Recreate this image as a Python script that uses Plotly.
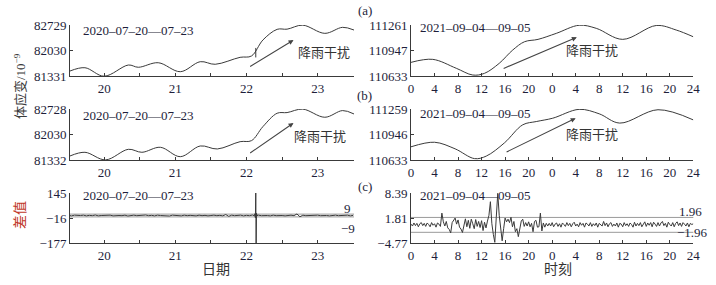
import plotly.graph_objects as go

W, H = 716, 285

# ---------------- data ----------------
# (a) left: 2020-07-20 -- 07-23, strain (1e-9), x in days
a_l_day = [19.52, 19.73, 20.00, 20.34, 20.48, 20.76, 21.07, 21.35, 21.56, 21.91, 22.07,
           22.23, 22.43, 22.57, 22.79, 23.10, 23.35, 23.51]
a_l_val = [81468, 81558, 81325, 81632, 81570, 81695, 81449, 81723, 81652, 81843, 81880,
           82317, 82610, 82615, 82725, 82500, 82665, 82591]
a_l_spike_day = [22.13, 22.13]
a_l_spike_val = [82100, 81840]

# (b) left
b_l_day = [19.52, 19.73, 20.02, 20.34, 20.53, 20.79, 21.07, 21.35, 21.59, 21.91, 22.07,
           22.23, 22.43, 22.57, 22.79, 23.10, 23.35, 23.51]
b_l_val = [81442, 81543, 81335, 81625, 81543, 81680, 81423, 81716, 81634, 81834, 81862,
           82245, 82612, 82630, 82725, 82502, 82685, 82592]

# (a) right: 2021-09-04 -- 09-05, x in hours from start
a_r_hour = [0, 3.7, 7.7, 10.5, 12.5, 15.0, 17.3, 19.3, 21.6, 24.7, 28.6, 31.5, 36.0, 41.7, 45.1, 48]
a_r_val = [110801, 110838, 110728, 110645, 110666, 110789, 110953, 111055, 111084, 111158,
           111258, 111220, 111084, 111255, 111199, 111116]

# (b) right
b_r_hour = [0, 4.0, 7.5, 10.8, 12.8, 15.9, 19.0, 21.3, 24.1, 28.6, 32.0, 35.5, 42.0, 48]
b_r_val = [110795, 110851, 110770, 110650, 110681, 110844, 111065, 111105, 111146, 111255,
           111200, 111086, 111250, 111125]

# (c) left: difference, hourly from day 19.5
c_l_start, c_l_step = 19.5, 1 / 24
c_l_val = [1, -2, 2, -1, 0, 2, -2, 1, -1, 3, -2, 0,
           1, -1, 2, -2, 1, 0, -1, 2, -3, 1, 2, -1,
           0, -2, 3, -1, 1, -2, 2, 0, -1, 1, -3, 2,
           0, 1, -2, 2, -1, 1, 0, -2, 2, -1, 1, -2,
           0, 2, -1, 1, -2, 6, -5, 2, -1, 0, 2, -2,
           1, -1, 3, -4, 2, -1, 1, 0, -2, 2, -1, 1,
           0, -2, 1, 2, -1, 10, -8, 2, -1, 0, 1, -2,
           2, -1, 1, 0, -2, 1, 2, -1, 0, -1, 2, -2,
           1]
c_l_spike_day = [22.11, 22.12, 22.125, 22.13, 22.135, 22.14, 22.15]
c_l_spike_val = [0, 12, -15, 160, -185, 14, 0]
c_l_band = [9, -9]

# (c) right: difference every 15 min
c_r_step = 0.25
c_r_val = [0.2, -0.3, 0.5, -0.2, 0.4, -0.5, 0.3, 0.6, -0.2, 0.4, -0.4, 0.5, 0.1, -0.5, 0.6, -0.1, 0.3, -0.6, 0.5, 0.2,
           -0.4, 3.1, 0.8, -0.3, 0.9, -0.8, -1.2, -2.1, 0.6, 1.2, 1.8, 0.2, 1.3, -0.6, -1.1, -2.0, 0.4, 1.6, -0.5, 1.2,
           -0.9, 1.5, 0.3, -1.0, 1.4, -0.4, 0.9, -0.7, 1.1, -1.5, 0.7, -0.8, 1.0, 2.5, 6.1, 0.3, -2.5, -4.6, 2.0, 8.3,
           2.5, -1.5, -4.2, -1.0, 1.8, 0.8, 1.5, 0.6, 2.0, -0.5, 0.9, -1.8, -1.0, -3.1, -0.8, 1.0, 1.5, -0.4, 0.6, -0.3,
           0.8, -0.5, 0.4, -1.8, 0.9, 1.2, -0.6, -0.5, 3.1, -1.6, 0.5, -0.6, 0.4, -0.3,
           0.4, -0.3, 0.6, -0.5, 0.2, 0.5, -0.4, 0.3, -0.6, 0.5, 0.1, -0.4,
           0.6, -0.2, 0.4, -0.5, 0.3, 0.7, -0.3, 0.2, -0.5, 0.6, -0.1, 0.4,
           -0.6, 0.5, 0.2, -0.3, 0.6, -0.4, 0.3, -0.2, 0.5, -0.6, 0.4, 0.1,
           -0.3, 0.9, -0.2, 0.5, -0.5, 0.3, 0.6, -0.4, 0.2, -0.3, 0.5, -0.6,
           0.4, 0.2, -0.5, 0.6, -0.2, 0.3, -0.4, 0.5, 0.1, -0.6, 0.7, -0.3,
           0.4, -0.2, 0.6, -0.5, 0.3, 0.8, -0.4, 0.5, -0.1, 0.6, -0.5, 0.7,
           0.2, -0.4, 0.6, -0.3, 0.5, 0.9, -0.2, 0.4, -0.6, 0.7, 0.1, -0.3,
           0.6, -0.5, 0.4, 0.8, -0.2, 0.5, -0.4, 0.6, 0.2, -0.3, 0.5, -0.5,
           0.4, 0.1, 0.3]
c_r_band = [1.96, -1.96]

# ticks
day_tickvals = [20, 20.5, 21, 21.5, 22, 22.5, 23, 23.5]
day_ticktext = ["20", "", "21", "", "22", "", "23", ""]
hour_tickvals = list(range(0, 49, 4))
hour_ticktext = ["0", "4", "8", "12", "16", "20", "0", "4", "8", "12", "16", "20", "24"]
a_l_yticks = [81331, 82030, 82729]
b_l_yticks = [81332, 82030, 82728]
c_l_yticks = [-177, -16, 145]
a_r_yticks = [110633, 110947, 111261]
b_r_yticks = [110633, 110946, 111259]
c_r_yticks = [-4.77, 1.81, 8.39]

date_left = "2020–07–20—07–23"
date_right = "2021–09–04—09–05"
rain = "降雨干扰"

# ---------------- figure ----------------
LINE = "#3a3a3a"
TXT = "#1e1e3a"
SERIF = "Liberation Serif, Times New Roman, serif"
CJK = "Liberation Serif, Noto Sans CJK SC, sans-serif"

def fx(px):
    return px / W

def fy(py):
    return 1 - py / H

fig = go.Figure()

def line(x, y, ax, smooth=True, width=1.0):
    fig.add_trace(go.Scatter(x=x, y=y, mode="lines", xaxis="x" + ax, yaxis="y" + ax,
                             line=dict(color=LINE, width=width,
                                       shape="spline" if smooth else "linear",
                                       smoothing=1.0 if smooth else None),
                             showlegend=False, hoverinfo="skip"))

line(a_l_day, a_l_val, "")
line(a_l_spike_day, a_l_spike_val, "", smooth=False)
line(a_r_hour, a_r_val, "2")
line(b_l_day, b_l_val, "3")
line(b_r_hour, b_r_val, "4")
line([c_l_start + i * c_l_step for i in range(len(c_l_val))], c_l_val, "5", smooth=False, width=1.0)
line(c_l_spike_day, c_l_spike_val, "5", smooth=False)
line([i * c_r_step for i in range(len(c_r_val))], c_r_val, "6", smooth=False, width=1.0)

left_dom = [fx(70), fx(354)]
right_dom = [fx(411), fx(693.3)]
rows = {"a": [fy(76), fy(25)], "b": [fy(160), fy(109)], "c": [fy(243), fy(193)]}

base_axis = dict(showline=True, linecolor=LINE, linewidth=1, ticks="inside", ticklen=3,
                 tickcolor=LINE, tickwidth=1, showgrid=False, zeroline=False, automargin=False,
                 tickfont=dict(family=SERIF, size=13, color=TXT), fixedrange=True)

def xax(dom, anchor, left):
    d = dict(base_axis, domain=dom, anchor=anchor)
    if left:
        d.update(range=[19.52, 23.51], tickmode="array", tickvals=day_tickvals, ticktext=day_ticktext)
    else:
        d.update(range=[0, 48], tickmode="array", tickvals=hour_tickvals, ticktext=hour_ticktext)
    return d

def yax(dom, anchor, ticks, labels=None):
    d = dict(base_axis, domain=dom, anchor=anchor, range=[ticks[0], ticks[-1]],
             tickmode="array", tickvals=ticks,
             ticktext=labels if labels else [str(t).replace("-", "−") for t in ticks])
    return d

fig.update_layout(
    width=W, height=H, margin=dict(l=0, r=0, t=0, b=0, pad=0),
    paper_bgcolor="white", plot_bgcolor="white",
    xaxis=xax(left_dom, "y", True), yaxis=yax(rows["a"], "x", a_l_yticks),
    xaxis2=xax(right_dom, "y2", False), yaxis2=yax(rows["a"], "x2", a_r_yticks),
    xaxis3=xax(left_dom, "y3", True), yaxis3=yax(rows["b"], "x3", b_l_yticks),
    xaxis4=xax(right_dom, "y4", False), yaxis4=yax(rows["b"], "x4", b_r_yticks),
    xaxis5=xax(left_dom, "y5", True), yaxis5=yax(rows["c"], "x5", c_l_yticks),
    xaxis6=xax(right_dom, "y6", False), yaxis6=yax(rows["c"], "x6", c_r_yticks),
)

# reference bands
shapes = []
for v in c_l_band:
    shapes.append(dict(type="line", xref="x5 domain", yref="y5", x0=0, x1=1, y0=v, y1=v,
                       line=dict(color="#9a9a9a", width=1), layer="below"))
for v in c_r_band:
    shapes.append(dict(type="line", xref="x6 domain", yref="y6", x0=0, x1=1, y0=v, y1=v,
                       line=dict(color="#9a9a9a", width=1), layer="below"))
fig.update_layout(shapes=shapes)

ann = []
def text(px, py, s, size=13, family=SERIF, color=TXT, xanchor="center", angle=0):
    ann.append(dict(x=fx(px), y=fy(py), xref="paper", yref="paper", text=s, showarrow=False,
                    font=dict(family=family, size=size, color=color), xanchor=xanchor,
                    yanchor="middle", textangle=angle, borderpad=0))

# date labels
for py in (30, 116, 195):
    text(81.5, py, date_left, xanchor="left")
for py in (28, 113, 195):
    text(419, py, date_right, xanchor="left")
# rain labels
text(324, 52, rain, size=13, family=CJK, color="#333")
text(320, 137, rain, size=13, family=CJK, color="#333")
text(592, 50, rain, size=13, family=CJK, color="#333")
text(592, 135, rain, size=13, family=CJK, color="#333")
# panel letters
text(364.5, 10, "(a)")
text(364.5, 96, "(b)")
text(364.5, 186, "(c)")
# axis titles
text(20, 86, "体应变/10<sup>−9</sup>", size=13, family=CJK, color="#3a3a3a", angle=-90)
text(20, 215, "差值", size=14, family=CJK, color="#c0392b", angle=-90)
text(216, 269, "日期", size=14, family=CJK, color="#333")
text(558, 269, "时刻", size=14, family=CJK, color="#333")
# band labels
text(352, 208, str(c_l_band[0]), xanchor="right")
text(355.5, 228, "−" + str(abs(c_l_band[1])), xanchor="right")
text(703, 211, f"{c_r_band[0]:.2f}", xanchor="right")
text(709, 232, "−" + f"{abs(c_r_band[1]):.2f}", xanchor="right")

# arrows (data coordinates)
def arrow(xr, yr, x0, y0, x1, y1):
    ann.append(dict(x=x1, y=y1, ax=x0, ay=y0, xref=xr, yref=yr, axref=xr, ayref=yr,
                    showarrow=True, arrowhead=2, arrowsize=0.9, arrowwidth=1.1,
                    arrowcolor="#444", text=""))

arrow("x", "y", 22.03, 81569, 22.66, 82317)
arrow("x3", "y3", 22.03, 81496, 22.66, 82345)
arrow("x2", "y2", 15.5, 110719, 28.2, 111109)
arrow("x4", "y4", 16.0, 110723, 28.0, 111146)

fig.update_layout(annotations=ann)
fig.write_html("out.html", config={"displayModeBar": False},
               post_script="document.body.style.margin='0px';document.body.style.overflow='hidden';")
